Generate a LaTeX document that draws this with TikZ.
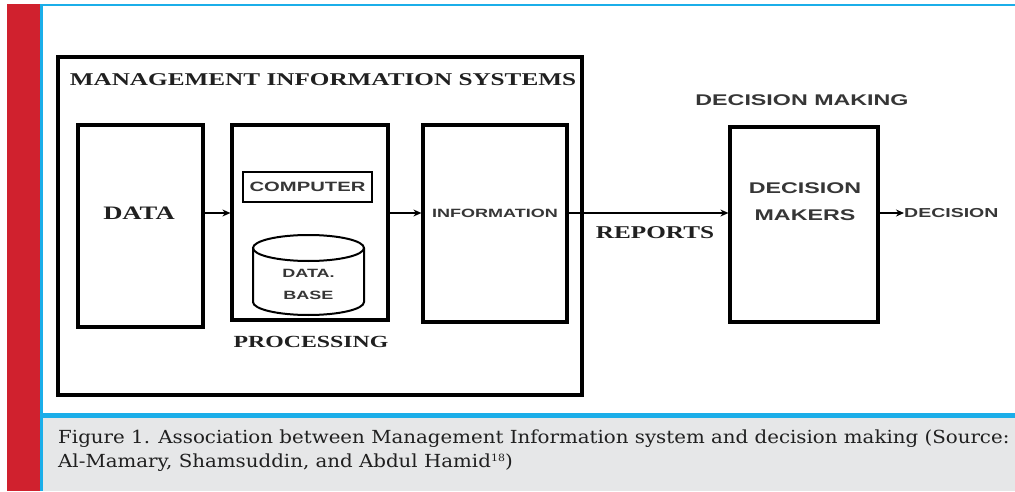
\documentclass[tikz,border=0pt]{standalone}
\usepackage{fontspec}
\usetikzlibrary{arrows.meta, positioning}
\newfontfamily\boxserif[FakeStretch=1.4]{Liberation Serif}
\newfontfamily\boxsans[FakeStretch=1.5]{Liberation Sans}
\newfontfamily\capserif[FakeStretch=1.1]{DejaVu Serif}
\definecolor{barred}{HTML}{D0212E}
\definecolor{rulecyan}{HTML}{1BAEE9}
\definecolor{capgray}{HTML}{E6E7E8}
\definecolor{inkgray}{HTML}{202020}
\definecolor{sansgray}{HTML}{363636}

\begin{document}
\begin{tikzpicture}[x=1pt, y=1pt,
	box/.style={draw, line width=3.2pt, inner sep=0pt},
	flow/.style={line width=1.8pt, -{Stealth[length=8pt, width=7pt]}},
	seriflabel/.style={text=inkgray, inner sep=0pt, font=\boxserif\bfseries\fontsize{#1}{#1}\selectfont},
	sanslabel/.style 2 args={text=sansgray, inner sep=0pt, align=center, font=\boxsans\bfseries\fontsize{#1}{#2}\selectfont},
	captext/.style={anchor=base west, inner sep=0pt, text=inkgray, font=\capserif\fontsize{18}{24}\selectfont}]
	\useasboundingbox (0, 0) rectangle (1015, 491);

	% page frame and caption strip
	\fill[white] (0, 0) rectangle (1015, 491);
	\fill[barred] (7, 0) rectangle (40, 487);
	\fill[capgray] (43, 0) rectangle (1015, 73);
	\fill[rulecyan] (40, 0) rectangle (43, 487);
	\fill[rulecyan] (40, 485) rectangle (1015, 487);
	\fill[rulecyan] (40, 73) rectangle (1015, 78);

	% boxes
	\node[box, minimum width=524, minimum height=338] (mis) at (320, 265) {};
	\node[box, minimum width=125, minimum height=202] (data) at (140.5, 265) {};
	\node[box, minimum width=156, minimum height=195] (proc) at (310, 268.5) {};
	\node[box, minimum width=144, minimum height=197] (info) at (495, 267.5) {};
	\node[box, minimum width=148, minimum height=195] (dm) at (804, 266.5) {};
	\node[box, line width=2.8pt, minimum width=129, minimum height=30, sanslabel={13.5}{15}] (comp) at (307.5, 304) {COMPUTER};

	% database drum
	\draw[line width=2pt] (308.5, 243) ellipse [x radius=55.5, y radius=13];
	\draw[line width=2pt] (253, 243) -- (253, 189) arc[start angle=180, end angle=360, x radius=55.5, y radius=13] -- (364, 243);
	\node[sanslabel={12}{22}] (db) at (308.5, 207) {DATA.\\BASE};

	% labels
	\node[seriflabel=18] (mistitle) at (323, 411) {MANAGEMENT INFORMATION SYSTEMS};
	\node[seriflabel=19] (datatext) at (139, 278) {DATA};
	\node[seriflabel=17] (proctext) at (311, 149) {PROCESSING};
	\node[sanslabel={12}{13}] (infotext) at (495, 278) {INFORMATION};
	\node[seriflabel=18] (reports) at (655, 258) {REPORTS};
	\node[sanslabel={15.5}{18}] (dmtitle) at (802, 391) {DECISION MAKING};
	\node[sanslabel={15.5}{27}] (dmtext) at (805, 289.5) {DECISION\\MAKERS};
	\node[sanslabel={13}{15}, anchor=west] (out) at (904, 278) {DECISION};

	% flow
	\coordinate (lvl) at (0, 278);
	\draw[flow] (data.east |- lvl) -- (proc.west |- lvl);
	\draw[flow] (proc.east |- lvl) -- (info.west |- lvl);
	\draw[flow] (info.east |- lvl) -- (dm.west |- lvl);
	\draw[flow] (dm.east |- lvl) -- (out.west);

	% caption
	\node[captext] (caption) at (58, 48) {Figure 1. Association between Management Information system and decision making (Source:};
	\node[captext] (source) at (58, 24) {Al-Mamary, Shamsuddin, and Abdul Hamid\raisebox{6pt}{\fontsize{10}{10}\selectfont 18})};
\end{tikzpicture}
\end{document}
